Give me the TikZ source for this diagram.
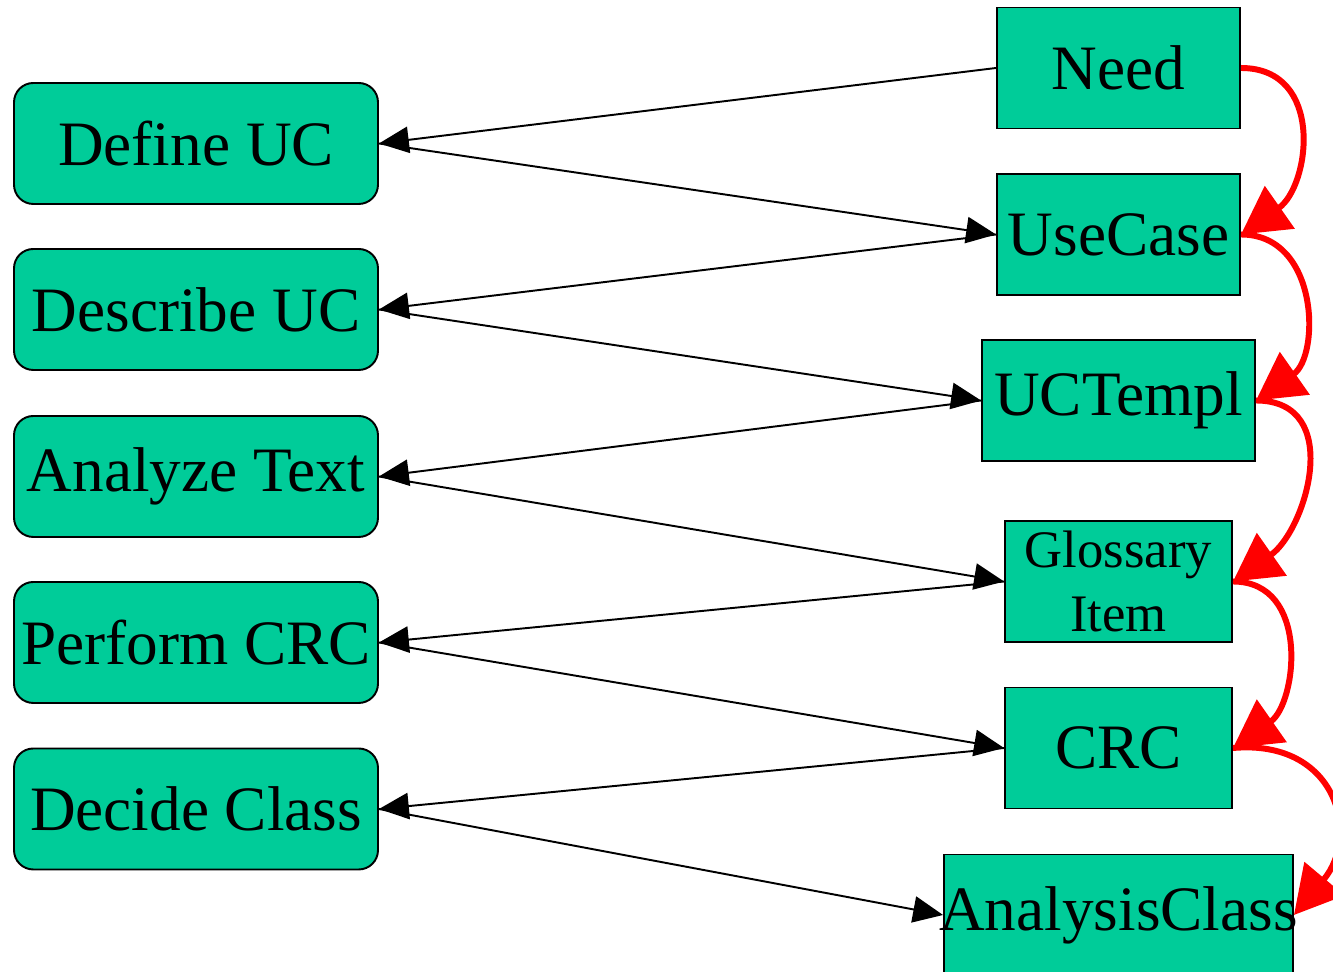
\documentclass[tikz,border=0pt]{standalone}
\usepackage{fontspec}
\setmainfont{Liberation Serif}
\usetikzlibrary{arrows.meta}

\definecolor{tuerkis}{RGB}{0,204,153}

\tikzset{
    aktivitaet/.style={draw, line width=1.1pt, fill=tuerkis, rounded corners=11pt,
        minimum width=364*0.02cm, minimum height=121*0.02cm, inner sep=0pt,
        font=\fontsize{36}{36}\selectfont},
    artefakt/.style={draw, line width=1.1pt, fill=tuerkis,
        minimum height=121*0.02cm, inner sep=0pt,
        font=\fontsize{36}{36}\selectfont},
    fluss/.style={line width=1.1pt, -{Triangle[length=17pt, width=15pt]}},
    folge/.style={line width=3.4pt, red, -{Triangle[length=27pt, width=29pt]}}
}

\begin{document}
\begin{tikzpicture}[x=0.02cm, y=0.02cm]

    \useasboundingbox (0,0) rectangle (1333,972);
    \clip (0,0) rectangle (1333,972);

    %Aktivitaeten
    \node[aktivitaet] (defuc)   at (196,828.5) {Define UC};
    \node[aktivitaet] (descuc)  at (196,662.5) {Describe UC};
    \node[aktivitaet] (analyze) at (196,495.5) {Analyze Text};
    \node[aktivitaet] (perfcrc) at (196,329.5) {Perform CRC};
    \node[aktivitaet] (decide)  at (196,163)   {Decide Class};

    %Artefakte
    \node[artefakt, minimum width=243*0.02cm] (need)     at (1118.5,904)   {Need};
    \node[artefakt, minimum width=243*0.02cm] (usecase)  at (1118.5,737.5) {UseCase};
    \node[artefakt, minimum width=273*0.02cm] (uctempl)  at (1118.5,571.5) {UCTempl};
    \node[artefakt, minimum width=227*0.02cm, align=center,
          font=\fontsize{30}{36}\selectfont] (glossary) at (1118.5,390.5) {Glossary\\Item};
    \node[artefakt, minimum width=227*0.02cm] (crc)      at (1118.5,224)   {CRC};
    \node[artefakt, minimum width=349*0.02cm] (anaclass) at (1118.5,57)    {\makebox[0pt]{AnalysisClass}};

    %Ein- und Ausgaben
    \draw[fluss] (need.west)     -- (defuc.east);
    \draw[fluss] (defuc.east)    -- (usecase.west);
    \draw[fluss] (usecase.west)  -- (descuc.east);
    \draw[fluss] (descuc.east)   -- (uctempl.west);
    \draw[fluss] (uctempl.west)  -- (analyze.east);
    \draw[fluss] (analyze.east)  -- (glossary.west);
    \draw[fluss] (glossary.west) -- (perfcrc.east);
    \draw[fluss] (perfcrc.east)  -- (crc.west);
    \draw[fluss] (crc.west)      -- (decide.east);
    \draw[fluss] (decide.east)   -- (anaclass.west);

    %Reihenfolge der Artefakte
    \draw[folge] (need.east)     to[out=0, in=35, looseness=1.3] (usecase.east);
    \draw[folge] (usecase.east)  to[out=0, in=35, looseness=1.2] (uctempl.east);
    \draw[folge] (uctempl.east)  to[out=0, in=35, looseness=1.25] (glossary.east);
    \draw[folge] (glossary.east) to[out=0, in=35, looseness=1.2] (crc.east);
    \draw[folge] (crc.east)      to[out=5, in=50, looseness=1.5] (anaclass.east);

\end{tikzpicture}
\end{document}
